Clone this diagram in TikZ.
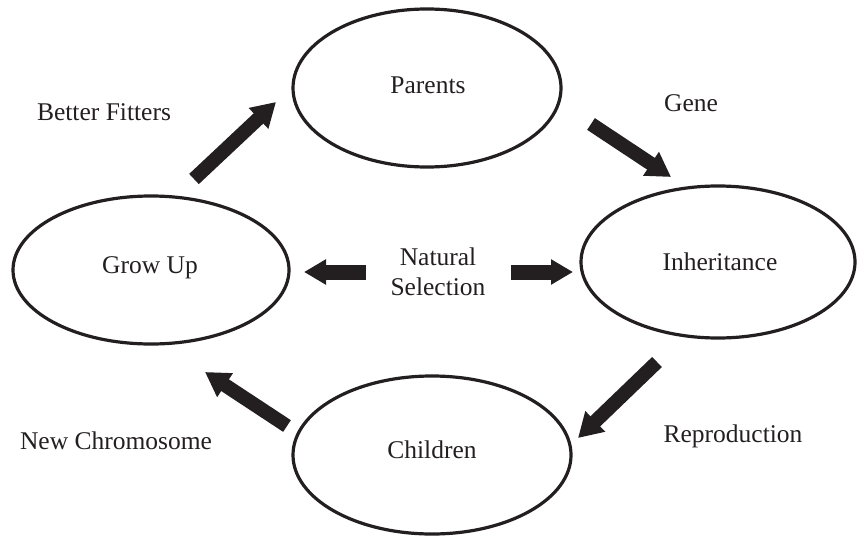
\documentclass[tikz,border=0pt]{standalone}
\usepackage{fontspec}
\setmainfont{Liberation Serif}
\usetikzlibrary{shapes.geometric,arrows.meta}
\definecolor{ink}{HTML}{231F20}
\begin{document}
\begin{tikzpicture}[x=1pt,y=-1pt,
  ring/.style={draw=ink,line width=3.2pt},
  lbl/.style={font=\fontsize{25.5}{30}\selectfont,text=ink,inner sep=0pt,align=center},
  fat/.style={draw=ink,line width=14pt,-{Triangle[width=27pt,length=24pt]}},
  fatsmall/.style={draw=ink,line width=15pt,-{Triangle[width=24pt,length=22pt]}}]
\useasboundingbox (0,0) rectangle (858,540);
% ellipses
\draw[ring] (427,88) ellipse [x radius=134, y radius=79];
\node[lbl] (parents) at (428,85) {Parents};
\draw[ring] (718,262) ellipse [x radius=137, y radius=76];
\node[lbl] (inherit) at (720,262) {Inheritance};
\draw[ring] (151,270) ellipse [x radius=138, y radius=74];
\node[lbl] (grow) at (150,268) {Grow Up};
\draw[ring] (432,455) ellipse [x radius=139, y radius=79];
\node[lbl] (children) at (432,450) {Children};
% labels
\node[lbl] (better) at (104,112) {Better Fitters};
\node[lbl] (gene) at (691,103) {Gene};
\node[lbl] (natsel) at (438,272) {Natural\\Selection};
\node[lbl] (repro) at (733,436) {Reproduction};
\node[lbl] (newchr) at (116,441) {New Chromosome};
% arrow ends
\coordinate (bfA) at (194,179);
\coordinate (bfB) at (276,102);
\coordinate (geA) at (591,124);
\coordinate (geB) at (671,177);
\coordinate (reA) at (657,362);
\coordinate (reB) at (578,438);
\coordinate (ncA) at (287,426);
\coordinate (ncB) at (205,372);
\coordinate (nlA) at (366,272);
\coordinate (nlB) at (304,272);
\coordinate (nrA) at (511,272);
\coordinate (nrB) at (573,272);
% arrows
\draw[fat] (bfA) -- (bfB);
\draw[fat] (geA) -- (geB);
\draw[fat] (reA) -- (reB);
\draw[fat] (ncA) -- (ncB);
\draw[fatsmall] (nlA) -- (nlB);
\draw[fatsmall] (nrA) -- (nrB);
\end{tikzpicture}
\end{document}
